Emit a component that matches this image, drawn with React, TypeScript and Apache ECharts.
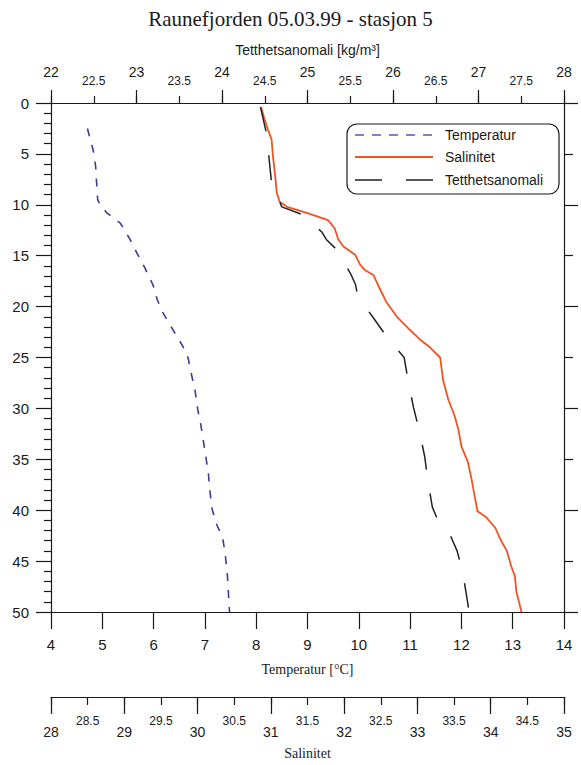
import React, { useEffect, useRef } from 'react';
import * as echarts from 'echarts';

const chartTitle = 'Raunefjorden 05.03.99 - stasjon 5';
const seriesNames = ['Temperatur', 'Salinitet', 'Tetthetsanomali'];

const tempDepth = [2.5, 4.6, 6.2, 7.9, 9.5, 10.0, 10.8, 11.8, 12.3, 13.4, 14.7, 16.2, 17.9, 19.3, 20.6, 22.3, 23.9, 25.0, 26.7, 28.3, 30.1, 31.6, 33.2, 34.8, 36.5, 38.2, 39.9, 41.4, 42.8, 44.5, 46.5, 50.0];
const tempValues = [4.71, 4.82, 4.87, 4.89, 4.91, 4.96, 5.09, 5.35, 5.41, 5.54, 5.67, 5.83, 5.99, 6.07, 6.18, 6.38, 6.57, 6.67, 6.74, 6.81, 6.86, 6.92, 6.97, 7.02, 7.07, 7.10, 7.14, 7.23, 7.35, 7.40, 7.44, 7.48];

const salDepth = [0.4, 0.5, 1.5, 2.6, 3.6, 5.3, 7.2, 8.8, 9.7, 10.2, 10.8, 11.5, 12.3, 13.4, 14.1, 14.9, 15.9, 16.4, 16.9, 18.0, 19.6, 21.0, 22.3, 23.2, 24.0, 25.0, 27.2, 29.1, 30.8, 32.1, 33.7, 35.3, 37.0, 38.6, 40.1, 40.7, 41.7, 43.1, 44.0, 45.5, 46.5, 48.0, 50.0];
const salValues = [30.86, 30.87, 30.91, 30.96, 31.01, 31.03, 31.06, 31.08, 31.12, 31.22, 31.49, 31.78, 31.87, 31.92, 31.99, 32.15, 32.22, 32.28, 32.40, 32.47, 32.58, 32.72, 32.90, 33.03, 33.17, 33.31, 33.35, 33.42, 33.51, 33.56, 33.60, 33.69, 33.74, 33.78, 33.82, 33.94, 34.06, 34.15, 34.22, 34.28, 34.33, 34.35, 34.42];

const denDepth = [0.4, 3.0, 5.4, 7.9, 10.2, 11.0, 12.7, 13.4, 14.4, 16.7, 17.8, 19.0, 21.1, 23.0, 25.0, 27.4, 29.9, 32.3, 34.7, 37.2, 39.7, 40.7, 41.7, 44.0, 46.3, 48.9, 50.0];
const denValues = [24.45, 24.52, 24.55, 24.58, 24.70, 24.95, 25.17, 25.22, 25.34, 25.50, 25.56, 25.59, 25.77, 25.93, 26.13, 26.18, 26.24, 26.31, 26.37, 26.41, 26.46, 26.51, 26.63, 26.75, 26.82, 26.87, 26.89];

const SANS = 'Liberation Sans, Arial, Helvetica, sans-serif';
const SERIF = 'Liberation Serif, Times New Roman, serif';
const INK = '#1a1a1a';
const TEMP_COLOR = '#3c3c98';
const SAL_COLOR = '#f05424';
const DEN_COLOR = '#222222';
const TEMP_DASH = [8, 9];
const DEN_DASH = [25, 24];

const isHalf = (v: number) => Math.abs(v - Math.round(v)) > 0.01;

export default function App() {
  const ref = useRef<HTMLDivElement>(null);
  useEffect(() => {
    if (!ref.current) return;
    const chart = echarts.init(ref.current, undefined, { renderer: 'svg' });
    const axisLine = { show: true, onZero: false, lineStyle: { color: INK, width: 1.2 } };
    const tickStyle = { color: INK, width: 1.2 };
    const legendRows = [
      { name: seriesNames[0], y: 135, stroke: '#5555bb', width: 1.6, dash: [9, 8] },
      { name: seriesNames[1], y: 157, stroke: SAL_COLOR, width: 1.8, dash: null },
      { name: seriesNames[2], y: 180, stroke: DEN_COLOR, width: 1.5, dash: [27, 24] },
    ];
    chart.setOption({
      animation: false,
      backgroundColor: '#ffffff',
      title: {
        text: chartTitle,
        left: 'center',
        top: 8,
        padding: 0,
        textStyle: { fontFamily: SERIF, fontSize: 21, fontWeight: 'normal', color: INK },
      },
      graphic: [
        {
          type: 'rect', z: 100,
          shape: { x: 347, y: 124, width: 212, height: 70, r: 10 },
          style: { fill: '#ffffff', stroke: INK, lineWidth: 1.2 },
        },
        ...legendRows.flatMap((r) => [
          {
            type: 'line', z: 101,
            shape: { x1: 355, y1: r.y, x2: 433, y2: r.y },
            style: { stroke: r.stroke, lineWidth: r.width, lineDash: r.dash || undefined },
          },
          {
            type: 'text', z: 101, x: 445, y: r.y,
            style: { text: r.name, fontFamily: SANS, fontSize: 14, fill: INK, verticalAlign: 'middle', align: 'left' },
          },
        ]),
      ],
      grid: { left: 51, top: 103, right: 17, bottom: 152, containLabel: false },
      xAxis: [
        {
          type: 'value', position: 'bottom', min: 4, max: 14, interval: 1,
          name: 'Temperatur [°C]', nameLocation: 'middle', nameGap: 50,
          nameTextStyle: { fontFamily: SERIF, fontSize: 14, color: INK },
          axisLine, axisTick: { show: true, length: 17, lineStyle: tickStyle },
          axisLabel: { fontFamily: SANS, fontSize: 15, color: INK, margin: 25 },
          splitLine: { show: false },
        },
        {
          type: 'value', position: 'top', min: 22, max: 28, interval: 1,
          name: 'Tetthetsanomali [kg/m³]', nameLocation: 'middle', nameGap: 46,
          nameTextStyle: { fontFamily: SANS, fontSize: 14, color: INK },
          axisLine, axisTick: { show: true, length: 13, lineStyle: tickStyle },
          axisLabel: { fontFamily: SANS, fontSize: 14, color: INK, margin: 24 },
          splitLine: { show: false },
        },
        {
          type: 'value', position: 'top', min: 22, max: 28, interval: 0.5,
          axisLine: { show: false, onZero: false }, axisTick: { show: true, length: 7, lineStyle: tickStyle },
          axisLabel: { fontFamily: SANS, fontSize: 12, color: INK, margin: 16, formatter: (v: number) => (isHalf(v) ? String(v) : '') },
          splitLine: { show: false },
        },
        {
          type: 'value', position: 'bottom', offset: 85, min: 28, max: 35, interval: 1,
          name: 'Salinitet', nameLocation: 'middle', nameGap: 49,
          nameTextStyle: { fontFamily: SERIF, fontSize: 14, color: INK },
          axisLine, axisTick: { show: true, length: 17, lineStyle: tickStyle },
          axisLabel: { fontFamily: SANS, fontSize: 14, color: INK, margin: 28 },
          splitLine: { show: false },
        },
        {
          type: 'value', position: 'bottom', offset: 85, min: 28, max: 35, interval: 0.5,
          axisLine: { show: false, onZero: false }, axisTick: { show: true, length: 8, lineStyle: tickStyle },
          axisLabel: { fontFamily: SANS, fontSize: 12, color: INK, margin: 18, formatter: (v: number) => (isHalf(v) ? String(v) : '') },
          splitLine: { show: false },
        },
      ],
      yAxis: [
        {
          type: 'value', position: 'left', inverse: true, min: 0, max: 50, interval: 5,
          axisLine, axisTick: { show: true, length: 15, lineStyle: tickStyle },
          minorTick: { show: true, splitNumber: 5, length: 7, lineStyle: tickStyle },
          axisLabel: { fontFamily: SANS, fontSize: 15, color: INK, margin: 22 },
          splitLine: { show: false },
        },
        {
          type: 'value', position: 'right', inverse: true, min: 0, max: 50, interval: 10,
          axisLine, axisTick: { show: true, length: 14, lineStyle: tickStyle },
          minorTick: { show: true, splitNumber: 2, length: 9, lineStyle: tickStyle },
          axisLabel: { show: false },
          splitLine: { show: false },
        },
      ],
      series: [
        {
          name: seriesNames[0], type: 'line', xAxisIndex: 0, yAxisIndex: 0, symbol: 'none',
          data: tempDepth.map((d, i) => [tempValues[i], d]),
          lineStyle: { color: TEMP_COLOR, width: 1.6, type: TEMP_DASH },
          itemStyle: { color: TEMP_COLOR },
        },
        {
          name: seriesNames[1], type: 'line', xAxisIndex: 3, yAxisIndex: 0, symbol: 'none',
          data: salDepth.map((d, i) => [salValues[i], d]),
          lineStyle: { color: SAL_COLOR, width: 1.8, type: 'solid' },
          itemStyle: { color: SAL_COLOR },
        },
        {
          name: seriesNames[2], type: 'line', xAxisIndex: 1, yAxisIndex: 0, symbol: 'none',
          data: denDepth.map((d, i) => [denValues[i], d]),
          lineStyle: { color: DEN_COLOR, width: 1.5, type: DEN_DASH },
          itemStyle: { color: DEN_COLOR },
        },
      ],
    });
    return () => chart.dispose();
  }, []);
  return <div ref={ref} style={{ position: 'absolute', left: 0, top: 0, width: 581, height: 765 }} />;
}
